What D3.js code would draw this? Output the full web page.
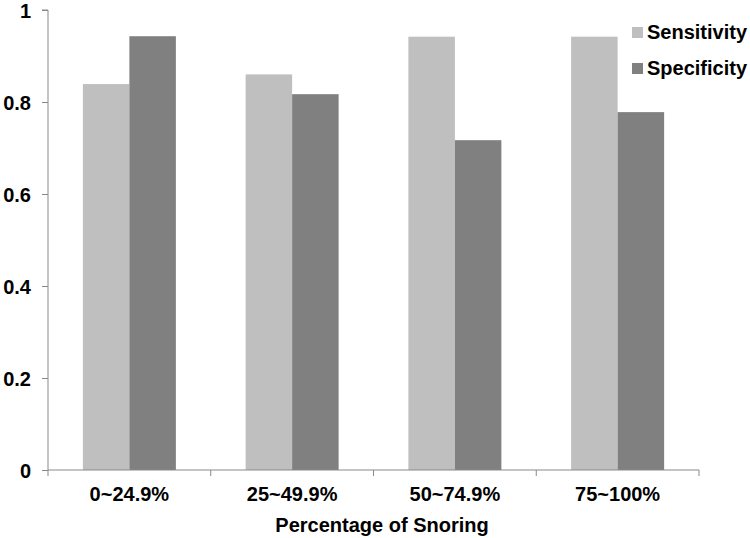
<!DOCTYPE html>
<html><head><meta charset="utf-8">
<script src="https://cdn.jsdelivr.net/npm/d3@7"></script>
<style>body{margin:0;background:#fff}text{font-family:"Liberation Sans",Arial,sans-serif;font-weight:bold;fill:#000}</style>
</head><body><svg id="c" width="750" height="538"></svg>
<script>
const categories = ["0~24.9%", "25~49.9%", "50~74.9%", "75~100%"];
const seriesNames = ["Sensitivity", "Specificity"];
const sensitivity = [0.839, 0.860, 0.942, 0.942];
const specificity = [0.943, 0.817, 0.717, 0.778];
const yTicks = [0, 0.2, 0.4, 0.6, 0.8, 1];
const yTickLabels = ["0", "0.2", "0.4", "0.6", "0.8", "1"];
const colors = ["#BFBFBF", "#808080"];

const svg = d3.select("#c");
const m = {left: 48, right: 51, top: 10, bottom: 68};
const W = 750, H = 538;
const x = d3.scaleBand().domain(categories).range([m.left, W - m.right]).paddingInner(0).paddingOuter(0);
const y = d3.scaleLinear().domain([0, 1]).range([H - m.bottom, m.top]);
const inner = d3.scaleBand().domain(seriesNames).range([0, x.bandwidth()]).paddingOuter(0.75).paddingInner(0);
const axisColor = "#898989";

const data = categories.map((c, i) => ({c, vals: [sensitivity[i], specificity[i]]}));

svg.append("g").selectAll("g").data(data).join("g")
  .attr("transform", d => `translate(${x(d.c)},0)`)
  .selectAll("rect").data(d => d.vals.map((v, j) => ({s: seriesNames[j], v, j}))).join("rect")
  .attr("x", d => inner(d.s)).attr("width", inner.bandwidth())
  .attr("y", d => y(d.v)).attr("height", d => y(0) - y(d.v))
  .attr("fill", d => colors[d.j]);

// y axis
const gy = svg.append("g").attr("transform", `translate(${m.left},0)`)
  .call(d3.axisLeft(y).tickValues(yTicks).tickFormat((d, i) => yTickLabels[i]).tickSize(6).tickPadding(11));
gy.select(".domain").attr("stroke", axisColor).attr("d", `M-6,${y(1)}H0V${y(0)}`);
gy.selectAll(".tick line").attr("stroke", axisColor);
gy.selectAll(".tick text").style("font-size", "20px").attr("dy", "0.35em").attr("fill", "#000");

// x axis
const gx = svg.append("g").attr("transform", `translate(0,${y(0)})`);
gx.append("line").attr("x1", m.left).attr("x2", W - m.right).attr("stroke", axisColor);
const bounds = categories.map(c => x(c)).concat([x(categories[categories.length - 1]) + x.bandwidth()]);
gx.selectAll("line.t").data(bounds).join("line").attr("class", "t")
  .attr("x1", d => d).attr("x2", d => d).attr("y1", 0).attr("y2", 6).attr("stroke", axisColor);
gx.selectAll("text").data(categories).join("text")
  .attr("x", d => x(d) + x.bandwidth() / 2).attr("y", 31)
  .attr("text-anchor", "middle").style("font-size", "20px").text(d => d);

svg.append("text").attr("x", 382).attr("y", 532).attr("text-anchor", "middle")
  .style("font-size", "20px").text("Percentage of Snoring");

// legend
const lg = svg.append("g").selectAll("g").data(seriesNames).join("g")
  .attr("transform", (d, i) => `translate(632,${27 + i * 36})`);
lg.append("rect").attr("width", 11).attr("height", 11).attr("fill", (d, i) => colors[i]);
lg.append("text").attr("x", 15).attr("y", 11.5).style("font-size", "20px").text(d => d);
</script></body></html>
